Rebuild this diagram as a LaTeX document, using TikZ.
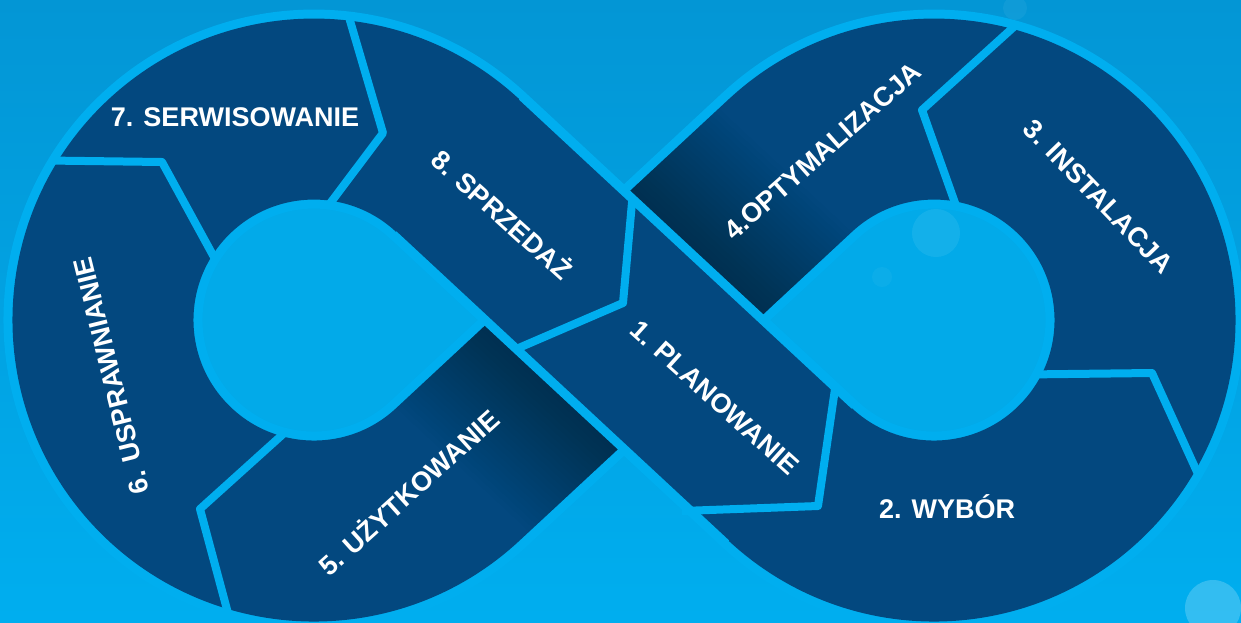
\documentclass[tikz,border=0pt]{standalone}
\usepackage{fontspec}
\setmainfont{Liberation Sans}
\usetikzlibrary{calc}
\definecolor{bgtop}{HTML}{0396D5}
\definecolor{bgmid}{HTML}{00A8E8}
\definecolor{bgbot}{HTML}{00AEEF}
\definecolor{rim}{HTML}{00AEEF}
\definecolor{band}{HTML}{03487F}
\definecolor{hole}{HTML}{02AAE9}
\tikzset{
  lbl/.style={text=white, font=\bfseries\fontsize{13.5}{16}\selectfont, inner sep=0pt, text height=9.8pt, text depth=0pt},
  mainband/.style={draw=rim, double=band, line width=4.5pt, double distance=90.5pt, line join=round},
  sideline/.style={draw=rim, line width=4.5pt},
  divider/.style={draw=rim, line width=4pt, line join=round},
  shadowstrip/.style={fill=black, opacity=0.01},
}
\begin{document}
\begin{tikzpicture}[x=0.5pt,y=0.5pt]
\useasboundingbox (0,-622) rectangle (1241,0);
\shade[top color=bgtop, middle color=bgmid, bottom color=bgbot] (0,-622) rectangle (1241,0);
\begin{scope}[yscale=-1]
  \coordinate (P) at (624,320);
  \coordinate (LC) at (314,320);
  \coordinate (RC) at (934,320);
  \coordinate (LT) at (457.6,165.4);
  \coordinate (LB) at (457.6,474.6);
  \coordinate (RT) at (790.4,165.4);
  \coordinate (RB) at (790.4,474.6);
  % soft light spots
  \fill[white, opacity=0.2] (1213,608) circle[radius=14pt];
  \fill[white, opacity=0.05] (1015,8) circle[radius=6pt];
  % holes
  \fill[hole] (LC) circle[radius=100pt];
  \fill[hole] (RC) circle[radius=100pt];
  \fill[white, opacity=0.07] (936,233) circle[radius=12pt];
  \fill[white, opacity=0.04] (882,277) circle[radius=5pt];
  % the infinity band
  \draw[mainband] (LT) -- (RB)
     arc[start angle=132.9, end angle=-132.9, radius=105.5pt] -- (LB)
     arc[start angle=47.1, end angle=312.9, radius=105.5pt] -- cycle;
  % shadows where the bands 4 and 5 pass under band 1
  \begin{scope}
    \clip (562.4,253.7) -- (728.7,99.2) -- (851.9,231.8) -- (685.6,386.3) -- cycle;
    \begin{scope}[shift={(624,320)}, rotate=42.9]
      \foreach \k in {1,...,25} \fill[shadowstrip] (-300,-94.5) rectangle (300,{-94.5-5*\k});
    \end{scope}
  \end{scope}
  \begin{scope}
    \clip (562.4,253.7) -- (685.6,386.3) -- (519.3,540.8) -- (396.1,408.2) -- cycle;
    \begin{scope}[shift={(624,320)}, rotate=42.9]
      \foreach \k in {1,...,25} \fill[shadowstrip] (-300,94.5) rectangle (300,{94.5+5*\k});
    \end{scope}
  \end{scope}
  % edges of the crossing band 8-1
  \coordinate (UA) at (522,96.3);
  \coordinate (UB) at (854.6,405.3);
  \coordinate (DA) at (393.4,234.7);
  \coordinate (DB) at (726,543.7);
  \draw[sideline] (UA) -- (UB);
  \draw[sideline] (DA) -- (DB);
  % dividers
  \draw[divider] ($(RC)+(30.3:306)$) -- (1152,373) -- ($(RC)+(28.5:114)$);
  \draw[divider] ($(RC)+(-74.5:306)$) -- (922,110) -- ($(RC)+(-78.4:114)$);
  \draw[divider] ($(LC)+(103.8:114)$) -- (200,509) -- ($(LC)+(106.3:306)$);
  \draw[divider] ($(LC)+(211.4:306)$) -- (162,162) -- ($(LC)+(211:114)$);
  \draw[divider] ($(LC)+(-83.5:306)$) -- (383,133) -- ($(LC)+(-83.2:114)$);
  \draw[divider] (835.7,384) -- (818,506) -- (682,511);
  \begin{scope}
    \clip (520.8,93.1) -- (762.6,317.8) -- (632,458.4) -- (390.2,233.7) -- cycle;
    \draw[divider] (634,180) -- (623,303) -- (500,356);
  \end{scope}
  % labels
  \node[lbl] (t7) at (235,117) {7. SERWISOWANIE};
  \node[lbl, rotate=-42] (t8) at (502,215) {8. SPRZEDAŻ};
  \node[lbl, rotate=-42] (t1) at (715,397) {1. PLANOWANIE};
  \node[lbl] (t2) at (947,509) {2. WYBÓR};
  \node[lbl, rotate=-46] (t3) at (1099,196) {3. INSTALACJA};
  \node[lbl, rotate=41.5] (t4) at (822,151) {4.OPTYMALIZACJA};
  \node[lbl, rotate=42] (t5) at (409,493) {5. UŻYTKOWANIE};
  \node[lbl, rotate=104] (t6) at (111,376) {6. USPRAWNIANIE};
\end{scope}
\end{tikzpicture}
\end{document}
